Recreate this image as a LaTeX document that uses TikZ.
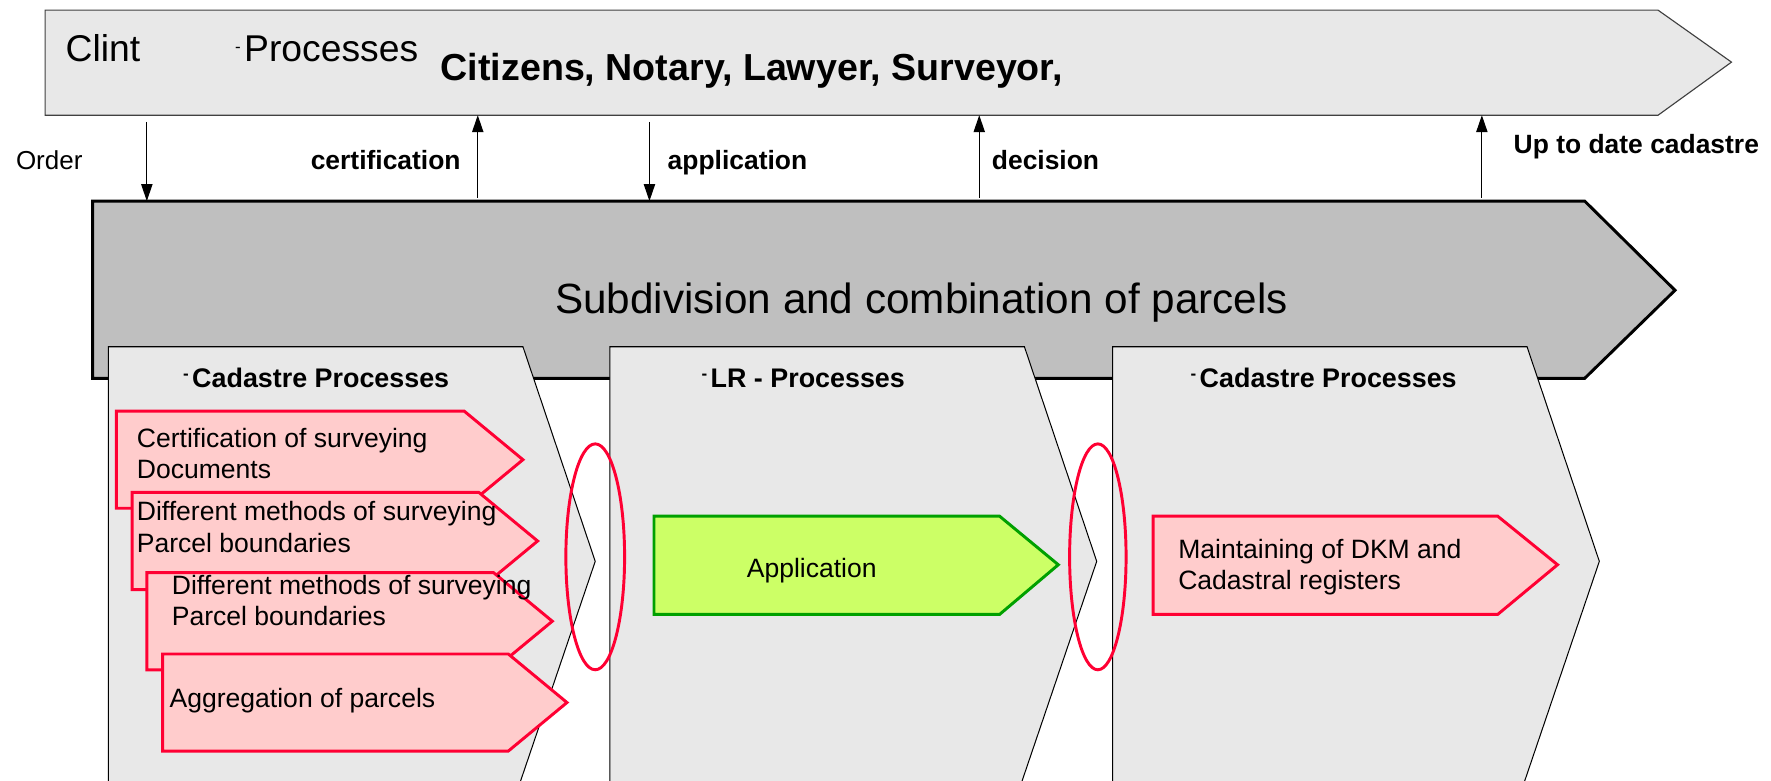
\documentclass[tikz,border=0pt]{standalone}
\usepackage{fontspec}
\setmainfont{Liberation Sans}
\usetikzlibrary{arrows.meta}
\definecolor{bannerfill}{HTML}{E8E8E8}
\definecolor{bannerline}{HTML}{404040}
\definecolor{barfill}{HTML}{BFBFBF}
\definecolor{pinkfill}{HTML}{FFCCCC}
\definecolor{redline}{HTML}{FF0033}
\definecolor{greenfill}{HTML}{CCFF66}
\definecolor{greenline}{HTML}{00A000}
\newcommand{\smalldash}{{\fontsize{15}{15}\selectfont\raisebox{0.5em}{-}}\hspace{3pt}}
\begin{document}
\begin{tikzpicture}[x=1pt,y=-1pt,
  banner/.style={fill=bannerfill,draw=bannerline,line width=1pt},
  bar/.style={fill=barfill,draw=black,line width=2.6pt,line join=miter},
  chevfill/.style={fill=bannerfill},
  chevline/.style={draw=black,line width=0.9pt},
  pinkbox/.style={fill=pinkfill,draw=redline,line width=2.6pt,line join=miter},
  greenbox/.style={fill=greenfill,draw=greenline,line width=2.6pt,line join=miter},
  ring/.style={draw=redline,line width=2.6pt},
  flow/.style={line width=1pt,-{Triangle[length=15pt,width=10pt]}},
  lbl/.style={inner sep=0pt,font=\fontsize{23.4}{27}\selectfont\bfseries},
  head/.style={inner sep=0pt,font=\fontsize{23.8}{27}\selectfont\bfseries},
  body/.style={inner sep=0pt,align=left,font=\fontsize{23.5}{27.5}\selectfont},
  topfont/.style={inner sep=0pt,font=\fontsize{33}{37}\selectfont},
]
\useasboundingbox (0,0) rectangle (1568,691);
% top banner
\path[banner] (40,9) -- (1468,9) -- (1533,55) -- (1468,102) -- (40,102) -- cycle;
\node[topfont,anchor=west] (clint) at (58,43) {Clint};
\node[topfont,anchor=west] (proc) at (208,43) {\smalldash Processes};
\node[topfont,anchor=west,font=\fontsize{33.3}{37}\selectfont\bfseries] (actors) at (390,63) {Citizens, Notary, Lawyer, Surveyor,};
% main bar
\path[bar] (82,178) -- (1403,178) -- (1483,257) -- (1403,335) -- (82,335) -- cycle;
\node[inner sep=0pt,font=\fontsize{37.4}{42}\selectfont] (main) at (816,268) {Subdivision and combination of parcels};
% chevrons
\foreach \L/\nm in {96/cA,540/cB,985/cC}{
  \fill[chevfill] (\L,307) -- (\L+367,307) -- (\L+431,497) -- (\L+362,700) -- (\L,700) -- cycle;
  \draw[chevline] (\L,700) -- (\L,307) -- (\L+367,307) -- (\L+431,497) -- (\L+362,700);
}
\node[head,anchor=west] (h1) at (162,335) {\smalldash Cadastre Processes};
\node[head,anchor=west] (h2) at (621,335) {\smalldash LR - Processes};
\node[head,anchor=west] (h3) at (1054,335) {\smalldash Cadastre Processes};
% pink arrows left
\path[pinkbox] (103,364) -- (411,364) -- (463,407) -- (411,450) -- (103,450) -- cycle;
\node[body,anchor=north west] (ta) at (121,379) {Certification of surveying\\Documents};
\path[pinkbox] (117,436) -- (424,436) -- (476,479) -- (424,522) -- (117,522) -- cycle;
\node[body,anchor=north west] (tb) at (121,444) {Different methods of surveying\\Parcel boundaries};
\path[pinkbox] (130,507) -- (437,507) -- (489,550) -- (437,593) -- (130,593) -- cycle;
\node[body,anchor=north west] (tc) at (152,509) {Different methods of surveying\\Parcel boundaries};
\path[pinkbox] (144,579) -- (450,579) -- (502,622) -- (450,665) -- (144,665) -- cycle;
\node[body,anchor=west] (td) at (150,620) {Aggregation of parcels};
% green arrow
\path[greenbox] (579,457) -- (885,457) -- (937,500) -- (885,544) -- (579,544) -- cycle;
\node[body,anchor=west] (tg) at (661,505) {Application};
% right pink arrow
\path[pinkbox] (1021,457) -- (1326,457) -- (1379,500) -- (1326,544) -- (1021,544) -- cycle;
\node[body,anchor=west] (tm) at (1043,502) {Maintaining of DKM and\\Cadastral registers};
% ellipses
\draw[ring] (527,493) ellipse [x radius=26pt, y radius=100pt];
\draw[ring] (972,493) ellipse [x radius=25pt, y radius=100pt];
% connectors
\coordinate (a1s) at (130,108); \coordinate (a1e) at (130,178);
\coordinate (a2s) at (423,175); \coordinate (a2e) at (423,102);
\coordinate (a3s) at (575,108); \coordinate (a3e) at (575,178);
\coordinate (a4s) at (867,175); \coordinate (a4e) at (867,102);
\coordinate (a5s) at (1312,175); \coordinate (a5e) at (1312,102);
\draw[flow] (a1s) -- (a1e);
\draw[flow] (a2s) -- (a2e);
\draw[flow] (a3s) -- (a3e);
\draw[flow] (a4s) -- (a4e);
\draw[flow] (a5s) -- (a5e);
\node[inner sep=0pt,anchor=base west,font=\fontsize{23}{27}\selectfont] (order) at (14,150) {Order};
\node[lbl,anchor=base east] (cert) at (408,150) {certification};
\node[lbl,anchor=base west] (appl) at (591,150) {application};
\node[lbl,anchor=base west] (dec) at (878,150) {decision};
\node[lbl,anchor=base west] (utd) at (1340,136) {Up to date cadastre};
\end{tikzpicture}
\end{document}
